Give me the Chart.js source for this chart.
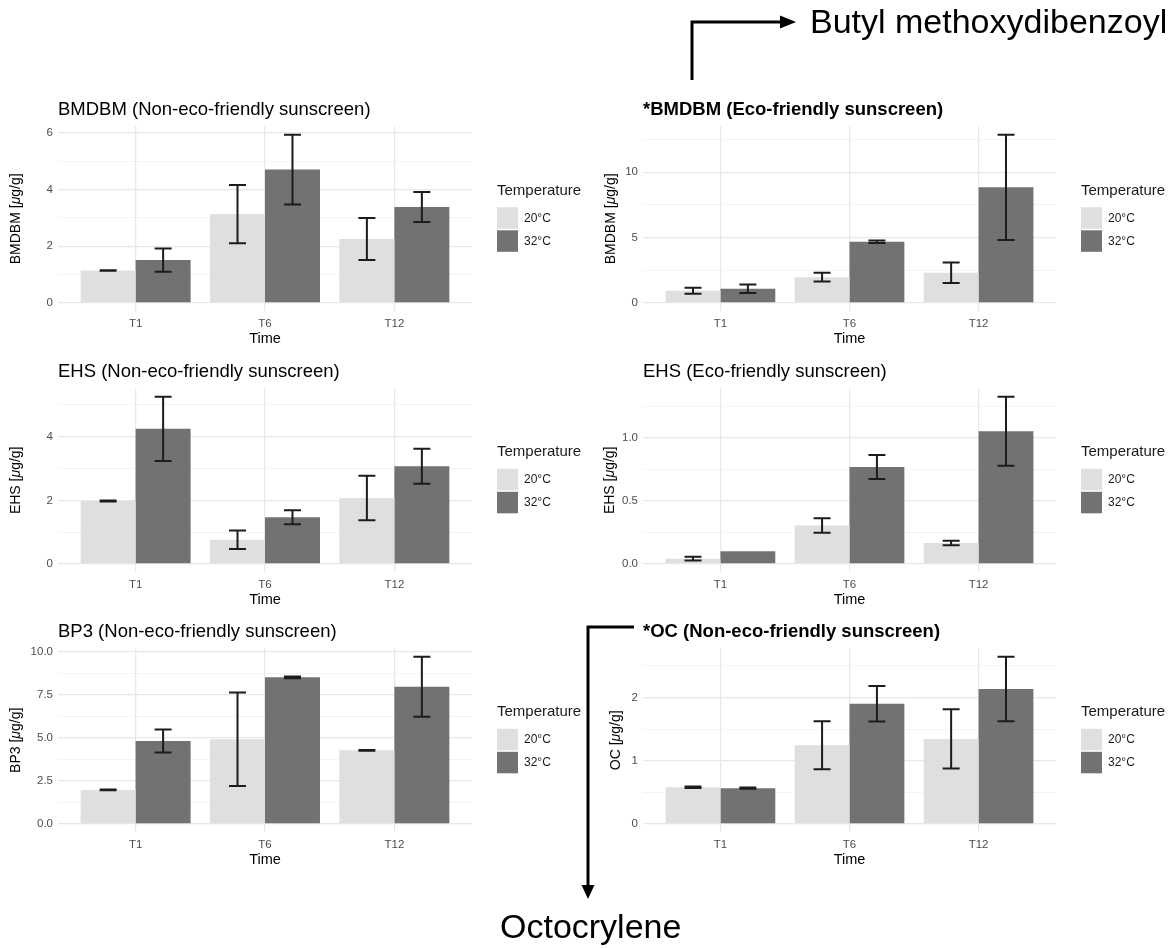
<!DOCTYPE html>
<html>
<head>
<meta charset="utf-8">
<title>UV filter concentrations by time and temperature</title>
<script src="https://cdn.jsdelivr.net/npm/chart.js@4.4.1/dist/chart.umd.min.js"></script>
<style>
  html, body { margin: 0; padding: 0; background: #ffffff; }
  #page { position: relative; width: 1170px; height: 948px; overflow: hidden; background: #ffffff; }
  #page canvas { position: absolute; }
  #notes { position: absolute; left: 0; top: 0; pointer-events: none; }
</style>
</head>
<body>
<div id="page">
  <svg id="notes" width="1170" height="948" viewBox="0 0 1170 948">
    <g stroke="#000" stroke-width="3" fill="none">
      <polyline points="692,80 692,22 781,22"/>
      <polyline points="634,627 588,627 588,886"/>
    </g>
    <g fill="#000">
      <polygon points="780,15.5 796,22 780,28.5"/>
      <polygon points="581.5,885 594.5,885 588,899"/>
    </g>
    <g font-family="'Liberation Sans', Arial, Helvetica, sans-serif" font-size="34" fill="#000">
      <text x="810" y="33">Butyl methoxydibenzoyl</text>
      <text x="500" y="938">Octocrylene</text>
    </g>
  </svg>
</div>
<script>
// Sampling times and temperature groups
const timePoints = ['T1', 'T6', 'T12'];
const temperatures = ['20°C', '32°C'];

// BMDBM, non-eco-friendly sunscreen (µg/g): means and standard deviations
const bmdbmNonEco20 = [1.14, 3.13, 2.25];
const bmdbmNonEco32 = [1.51, 4.70, 3.38];
const bmdbmNonEcoSd20 = [0.01, 1.03, 0.74];
const bmdbmNonEcoSd32 = [0.41, 1.23, 0.53];
const bmdbmNonEcoTicks = ['0', '2', '4', '6'];

// BMDBM, eco-friendly sunscreen
const bmdbmEco20 = [0.92, 1.97, 2.31];
const bmdbmEco32 = [1.08, 4.68, 8.84];
const bmdbmEcoSd20 = [0.23, 0.33, 0.78];
const bmdbmEcoSd32 = [0.32, 0.10, 4.03];
const bmdbmEcoTicks = ['0', '5', '10'];

// EHS, non-eco-friendly sunscreen
const ehsNonEco20 = [1.98, 0.76, 2.07];
const ehsNonEco32 = [4.25, 1.47, 3.07];
const ehsNonEcoSd20 = [0.015, 0.29, 0.70];
const ehsNonEcoSd32 = [1.01, 0.22, 0.55];
const ehsNonEcoTicks = ['0', '2', '4'];

// EHS, eco-friendly sunscreen
const ehsEco20 = [0.042, 0.305, 0.167];
const ehsEco32 = [0.100, 0.770, 1.055];
const ehsEcoSd20 = [0.015, 0.057, 0.018];
const ehsEcoSd32 = [null, 0.095, 0.274];
const ehsEcoTicks = ['0.0', '0.5', '1.0'];

// BP3, non-eco-friendly sunscreen
const bp3NonEco20 = [1.98, 4.93, 4.28];
const bp3NonEco32 = [4.83, 8.53, 7.98];
const bp3NonEcoSd20 = [0.02, 2.72, 0.02];
const bp3NonEcoSd32 = [0.67, 0.05, 1.75];
const bp3NonEcoTicks = ['0.0', '2.5', '5.0', '7.5', '10.0'];

// OC, non-eco-friendly sunscreen
const ocNonEco20 = [0.58, 1.245, 1.345];
const ocNonEco32 = [0.565, 1.90, 2.135];
const ocNonEcoSd20 = [0.01, 0.38, 0.47];
const ocNonEcoSd32 = [0.01, 0.28, 0.51];
const ocNonEcoTicks = ['0', '1', '2'];

const FONT = '"Liberation Sans", Arial, Helvetica, sans-serif';
const LIGHT = '#dfdfdf';
const DARK = '#727272';
const GRID_MAJOR = '#ece6e8';
const GRID_MINOR = '#f4f0f1';
const TEXT = '#1a1a1a';
const TICK_TEXT = '#4d4d4d';

Chart.defaults.font.family = FONT;

// Panels: content plus where each plotting region sits on the page
const panels = [
  { title: 'BMDBM (Non-eco-friendly sunscreen)', bold: false, analyte: 'BMDBM',
    v20: bmdbmNonEco20, v32: bmdbmNonEco32, sd20: bmdbmNonEcoSd20, sd32: bmdbmNonEcoSd32, ticks: bmdbmNonEcoTicks,
    box: { cx: 0, cw: 590, plotL: 58, plotR: 472, plotT: 126.5, plotB: 311, yTitleX: 16.5 } },
  { title: '*BMDBM (Eco-friendly sunscreen)', bold: true, analyte: 'BMDBM',
    v20: bmdbmEco20, v32: bmdbmEco32, sd20: bmdbmEcoSd20, sd32: bmdbmEcoSd32, ticks: bmdbmEcoTicks,
    box: { cx: 585, cw: 585, plotL: 643, plotR: 1056, plotT: 126.5, plotB: 311, yTitleX: 611.5 } },
  { title: 'EHS (Non-eco-friendly sunscreen)', bold: false, analyte: 'EHS',
    v20: ehsNonEco20, v32: ehsNonEco32, sd20: ehsNonEcoSd20, sd32: ehsNonEcoSd32, ticks: ehsNonEcoTicks,
    box: { cx: 0, cw: 590, plotL: 58, plotR: 472, plotT: 388.5, plotB: 571.6, yTitleX: 16.5 } },
  { title: 'EHS (Eco-friendly sunscreen)', bold: false, analyte: 'EHS',
    v20: ehsEco20, v32: ehsEco32, sd20: ehsEcoSd20, sd32: ehsEcoSd32, ticks: ehsEcoTicks,
    box: { cx: 585, cw: 585, plotL: 643, plotR: 1056, plotT: 388.5, plotB: 571.6, yTitleX: 610 } },
  { title: 'BP3 (Non-eco-friendly sunscreen)', bold: false, analyte: 'BP3',
    v20: bp3NonEco20, v32: bp3NonEco32, sd20: bp3NonEcoSd20, sd32: bp3NonEcoSd32, ticks: bp3NonEcoTicks,
    box: { cx: 0, cw: 590, plotL: 58, plotR: 472, plotT: 648.5, plotB: 832.5, yTitleX: 16.5 } },
  { title: '*OC (Non-eco-friendly sunscreen)', bold: true, analyte: 'OC',
    v20: ocNonEco20, v32: ocNonEco32, sd20: ocNonEcoSd20, sd32: ocNonEcoSd32, ticks: ocNonEcoTicks,
    box: { cx: 585, cw: 585, plotL: 643, plotR: 1056, plotT: 648.5, plotB: 832.5, yTitleX: 616.5 } }
];

// Mean ± SD whiskers over each bar
const errorBarPlugin = {
  id: 'errorBars',
  afterDatasetsDraw(chart) {
    const { ctx } = chart;
    const yScale = chart.scales.y;
    const cap = 8.5;
    ctx.save();
    ctx.strokeStyle = '#1c1c1c';
    ctx.lineWidth = 2;
    chart.data.datasets.forEach((ds, di) => {
      const meta = chart.getDatasetMeta(di);
      meta.data.forEach((bar, j) => {
        const sd = ds.errors[j];
        if (sd === null || sd === undefined) return;
        const v = ds.data[j].y;
        const yHi = yScale.getPixelForValue(v + sd);
        const yLo = yScale.getPixelForValue(v - sd);
        ctx.beginPath();
        ctx.moveTo(bar.x, yHi); ctx.lineTo(bar.x, yLo);
        ctx.moveTo(bar.x - cap, yHi); ctx.lineTo(bar.x + cap, yHi);
        ctx.moveTo(bar.x - cap, yLo); ctx.lineTo(bar.x + cap, yLo);
        ctx.stroke();
      });
    });
    ctx.restore();
  }
};

// Rotated y-axis title "<analyte> [μg/g]" with an italic mu
const unitTitlePlugin = {
  id: 'unitTitle',
  afterDraw(chart, args, opts) {
    const { ctx, chartArea } = chart;
    const parts = [
      { t: opts.analyte + ' [', f: '14px ' + FONT },
      { t: 'μ', f: 'italic 14px ' + FONT },
      { t: 'g/g]', f: '14px ' + FONT }
    ];
    let total = 0;
    parts.forEach(p => { ctx.font = p.f; p.w = ctx.measureText(p.t).width; total += p.w; });
    ctx.save();
    ctx.translate(opts.x, (chartArea.top + chartArea.bottom) / 2);
    ctx.rotate(-Math.PI / 2);
    ctx.fillStyle = '#000';
    ctx.textBaseline = 'middle';
    ctx.textAlign = 'left';
    let x = -total / 2;
    parts.forEach(p => { ctx.font = p.f; ctx.fillText(p.t, x, 0); x += p.w; });
    ctx.restore();
  }
};

// Temperature key to the right of each plotting region
const tempLegendPlugin = {
  id: 'tempLegend',
  afterDraw(chart, args, opts) {
    const { ctx, chartArea } = chart;
    const x = chartArea.right + 25;
    const mid = (chartArea.top + chartArea.bottom) / 2;
    ctx.save();
    ctx.textBaseline = 'middle';
    ctx.textAlign = 'left';
    ctx.fillStyle = TEXT;
    ctx.font = '15px ' + FONT;
    ctx.fillText(opts.title, x, mid - 28);
    chart.data.datasets.forEach((ds, i) => {
      const top = mid - 11.5 + i * 23;
      ctx.fillStyle = ds.backgroundColor;
      ctx.fillRect(x, top, 21, 21.5);
      ctx.fillStyle = TEXT;
      ctx.font = '12px ' + FONT;
      ctx.fillText(ds.label, x + 27, top + 11);
    });
    ctx.restore();
  }
};

const page = document.getElementById('page');
const notes = document.getElementById('notes');

panels.forEach(p => {
  const b = p.box;
  const canvasTop = b.plotT - 27.3;
  const xAxisHeight = 36.7;
  const canvasHeight = Math.ceil(b.plotB + xAxisHeight + 2 - canvasTop);
  const canvas = document.createElement('canvas');
  canvas.width = b.cw;
  canvas.height = canvasHeight;
  canvas.style.left = b.cx + 'px';
  canvas.style.top = canvasTop + 'px';
  canvas.style.width = b.cw + 'px';
  canvas.style.height = canvasHeight + 'px';
  page.insertBefore(canvas, notes);

  // y range: 0 up to the highest whisker, widened by 5% on both sides
  const tops = [];
  p.v20.forEach((v, i) => tops.push(v + (p.sd20[i] || 0)));
  p.v32.forEach((v, i) => tops.push(v + (p.sd32[i] || 0)));
  const yTop = Math.max(...tops);
  const yMin = -0.05 * yTop;
  const yMax = 1.05 * yTop;

  // labelled ticks plus unlabelled minor lines halfway between them
  const majors = p.ticks.map(t => parseFloat(t));
  const step = majors[1] - majors[0];
  const yTicks = p.ticks.map(t => ({ value: parseFloat(t), txt: t, minor: false }));
  majors.forEach(m => {
    const h = m + step / 2;
    if (h <= yMax) yTicks.push({ value: h, txt: '', minor: true });
  });
  yTicks.sort((a, c) => a.value - c.value);

  const toPoints = vals => timePoints.map((t, i) => ({ x: i + 1, y: vals[i] }));

  new Chart(canvas, {
    type: 'bar',
    data: {
      datasets: [
        { label: temperatures[0], data: toPoints(p.v20), errors: p.sd20, backgroundColor: LIGHT,
          borderWidth: 0, categoryPercentage: 0.85, barPercentage: 1.0 },
        { label: temperatures[1], data: toPoints(p.v32), errors: p.sd32, backgroundColor: DARK,
          borderWidth: 0, categoryPercentage: 0.85, barPercentage: 1.0 }
      ]
    },
    options: {
      responsive: false,
      animation: false,
      events: [],
      devicePixelRatio: 1,
      layout: { padding: { left: 0, top: 0, right: (b.cx + b.cw) - b.plotR, bottom: 2 } },
      scales: {
        x: {
          type: 'linear',
          min: 0.4,
          max: timePoints.length + 0.6,
          offset: false,
          bounds: 'data',
          grid: { offset: false, color: GRID_MAJOR, lineWidth: 1.2, drawTicks: false },
          border: { display: false },
          afterBuildTicks: s => { s.ticks = timePoints.map((t, i) => ({ value: i + 1 })); },
          afterFit: s => { s.height = xAxisHeight; },
          ticks: {
            callback: (v, i) => timePoints[i],
            font: { size: 11.5 }, color: TICK_TEXT, padding: 5.2,
            autoSkip: false, maxRotation: 0, minRotation: 0
          },
          title: { display: true, text: 'Time', font: { size: 14.5 }, color: '#000', padding: 0 }
        },
        y: {
          type: 'linear',
          min: yMin,
          max: yMax,
          bounds: 'data',
          grid: {
            color: c => (c.tick && c.tick.minor) ? GRID_MINOR : GRID_MAJOR,
            lineWidth: c => (c.tick && c.tick.minor) ? 0.8 : 1.2,
            drawTicks: false
          },
          border: { display: false },
          afterBuildTicks: s => { s.ticks = yTicks.map(t => Object.assign({}, t)); },
          afterFit: s => { s.width = b.plotL - b.cx; },
          ticks: {
            callback: (v, i, ts) => (ts[i] && ts[i].txt) ? ts[i].txt : '',
            font: { size: 11.5 }, color: TICK_TEXT, padding: 5, autoSkip: false
          },
          title: { display: false }
        }
      },
      plugins: {
        legend: { display: false },
        tooltip: { enabled: false },
        title: {
          display: true, text: p.title, align: 'start', fullSize: false,
          font: { size: 18.5, weight: p.bold ? 'bold' : 'normal' }, color: '#000',
          padding: { top: 0, bottom: 5.1 }
        },
        unitTitle: { analyte: p.analyte, x: b.yTitleX - b.cx },
        tempLegend: { title: 'Temperature' }
      }
    },
    plugins: [errorBarPlugin, unitTitlePlugin, tempLegendPlugin]
  });
});
</script>
</body>
</html>
